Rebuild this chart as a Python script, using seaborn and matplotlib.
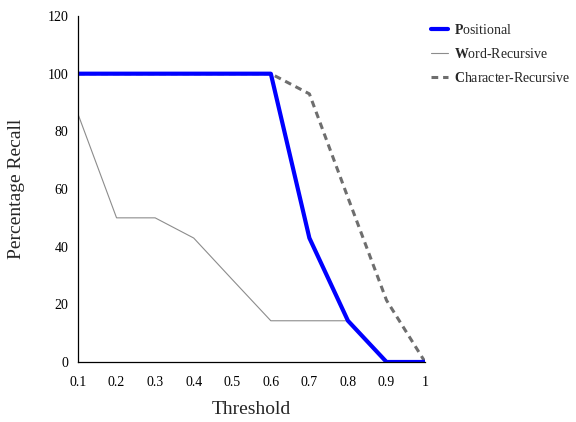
import pandas as pd
import matplotlib
matplotlib.use("Agg")
import matplotlib.pyplot as plt
import seaborn as sns

# -------------------------------
# Data
# -------------------------------
thresholds = [0.1, 0.2, 0.3, 0.4, 0.5, 0.6, 0.7, 0.8, 0.9, 1.0]
tick_labels = ["0.1", "0.2", "0.3", "0.4", "0.5", "0.6", "0.7", "0.8", "0.9", "1"]
positional = [100, 100, 100, 100, 100, 100, 43, 14.3, 0, 0]
word_recursive = [86, 50, 50, 43, 28.6, 14.3, 14.3, 14.3, 0, 0]
char_recursive = [100, 100, 100, 100, 100, 100, 93, 57, 21.4, 0]

series = {
    "Positional": positional,
    "Word-Recursive": word_recursive,
    "Character-Recursive": char_recursive,
}
df = pd.concat(
    [pd.DataFrame({"Threshold": thresholds, "Recall": v, "Method": k}) for k, v in series.items()],
    ignore_index=True,
)

sns.set_style("white")
plt.rcParams["font.family"] = ["Liberation Serif", "DejaVu Serif"]
plt.rcParams["mathtext.fontset"] = "custom"
plt.rcParams["mathtext.rm"] = "Liberation Serif"
plt.rcParams["mathtext.bf"] = "Liberation Serif:bold"

fig = plt.figure(figsize=(5.76, 4.22), dpi=100)
ax = fig.add_axes([0.1354, 0.1422, 0.6026, 0.8198])

styles = {
    "Positional": dict(color="#0000FF", linewidth=3.0, linestyle="-"),
    "Word-Recursive": dict(color="#8C8C8C", linewidth=0.8, linestyle="-"),
    "Character-Recursive": dict(color="#6E6E6E", linewidth=2.2, linestyle=(0, (2.2, 1.6))),
}
legend_names = {
    "Positional": r"$\mathbf{P}$ositional",
    "Word-Recursive": r"$\mathbf{W}$ord-Recursive",
    "Character-Recursive": r"$\mathbf{C}$haracter-Recursive",
}

# draw order: word first, then character, then positional on top
for name in ["Word-Recursive", "Character-Recursive", "Positional"]:
    sns.lineplot(
        data=df[df["Method"] == name],
        x="Threshold",
        y="Recall",
        ax=ax,
        label=legend_names[name],
        **styles[name],
    )

ax.set_xlim(0.1, 1.0)
ax.set_ylim(0, 120)
ax.set_xticks(thresholds)
ax.set_xticklabels(tick_labels)
ax.set_yticks(range(0, 121, 20))
ax.tick_params(axis="both", length=0, labelsize=10, colors="black")
ax.tick_params(axis="x", pad=10)
ax.tick_params(axis="y", pad=7)
ax.set_xlabel("Threshold", fontsize=14, labelpad=9)
ax.set_ylabel("Percentage Recall", fontsize=14, labelpad=16)

for side in ["top", "right"]:
    ax.spines[side].set_visible(False)
for side in ["left", "bottom"]:
    ax.spines[side].set_color("black")
    ax.spines[side].set_linewidth(0.9)

handles, labels = ax.get_legend_handles_labels()
order = [2, 0, 1]
ax.legend(
    [handles[i] for i in order],
    [labels[i] for i in order],
    loc="upper left",
    bbox_to_anchor=(0.748, 0.945),
    bbox_transform=fig.transFigure,
    frameon=False,
    fontsize=10,
    handlelength=1.2,
    handletextpad=0.5,
    labelspacing=0.7,
    borderaxespad=0,
    borderpad=0,
)

plt.savefig("out.png", dpi=100)
plt.close()
